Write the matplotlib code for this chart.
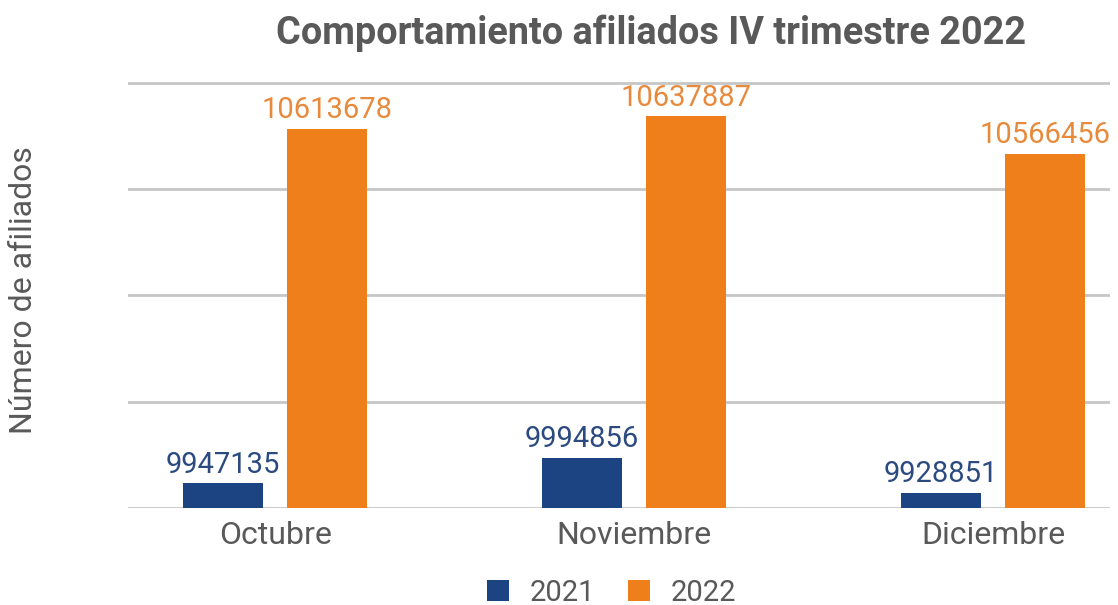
import matplotlib
matplotlib.use("Agg")
import matplotlib.pyplot as plt
import numpy as np

months = ["Octubre", "Noviembre", "Diciembre"]
years = ["2021", "2022"]
afiliados_2021 = [9947135, 9994856, 9928851]
afiliados_2022 = [10613678, 10637887, 10566456]

BLUE = "#1c4482"
ORANGE = "#ef7f1a"
GRAY = "#595959"

plt.rcParams["font.family"] = ["Roboto", "DejaVu Sans"]

fig = plt.figure(figsize=(11.18, 6.05), dpi=100)
ax = fig.add_axes([128 / 1118, 97 / 605, 982 / 1118, 428 / 605])

x = np.arange(len(months))
w = 0.223
off = 0.145
b1 = ax.bar(x - off, afiliados_2021, w, color=BLUE, label=years[0], zorder=3)
b2 = ax.bar(x + off, afiliados_2022, w, color=ORANGE, label=years[1], zorder=3)

ax.bar_label(b1, labels=[str(v) for v in afiliados_2021], padding=3,
             fontsize=21, color="#2b4a80")
ax.bar_label(b2, labels=[str(v) for v in afiliados_2022], padding=3,
             fontsize=21, color="#e88a3c")

ax.set_ylim(9900000, 10705000)
ax.set_yticks(np.arange(9900000, 10700001, 200000))
ax.set_yticklabels([])
ax.tick_params(axis="y", length=0)
ax.grid(axis="y", color="#c6c6c6", linewidth=2, zorder=0)
ax.set_xlim(-0.41, 2.326)
ax.set_xticks(x)
ax.set_xticklabels(months, fontsize=23, color=GRAY)
ax.tick_params(axis="x", length=0, pad=9)
for s in ax.spines.values():
    s.set_visible(False)

fig.text(0.582, 0.945, "Comportamiento afiliados IV trimestre 2022",
         ha="center", va="center", fontsize=27.3, fontweight="bold", color=GRAY)
fig.text(0.021, 0.52, "Número de afiliados", rotation=90, ha="center",
         va="center", fontsize=23, color=GRAY)

fig.legend(loc="center", bbox_to_anchor=(0.547, 0.02), ncol=2, frameon=False,
           fontsize=21, handlelength=0.75, handleheight=0.75, columnspacing=1.13,
           labelcolor=GRAY, handletextpad=0.7, borderpad=0.0)

fig.savefig("out.png", dpi=100)
